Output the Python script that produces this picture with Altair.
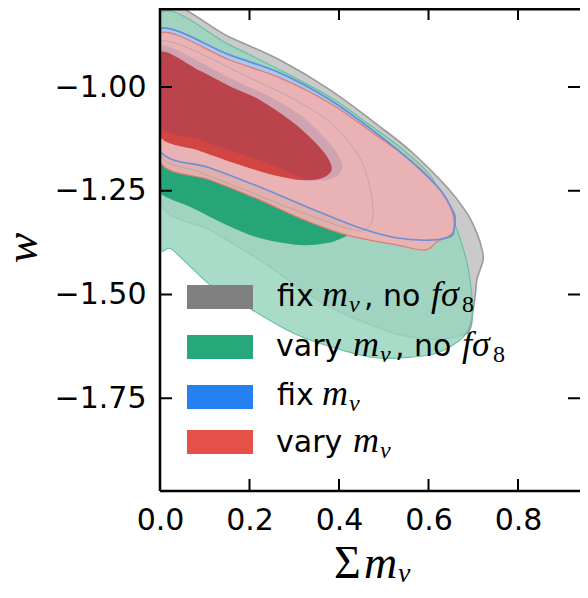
import altair as alt
import pandas as pd

# ---- contour data: Σm_ν (eV) and w for each confidence region ----
# fix m_nu, no f sigma_8 (grey) – 2 sigma
gray2_x = [0.0, 0.156, 0.268, 0.380, 0.492, 0.565, 0.641, 0.686, 0.708, 0.720, 0.722, 0.715, 0.708,
           0.704, 0.699, 0.695, 0.684, 0.648, 0.615, 0.539, 0.427, 0.351, 0.223, 0.112, 0.0, 0.0]
gray2_w = [-0.802, -0.880, -0.935, -1.007, -1.096, -1.159, -1.241, -1.304, -1.352, -1.393, -1.417, -1.441, -1.465,
           -1.506, -1.542, -1.576, -1.595, -1.605, -1.607, -1.598, -1.554, -1.513, -1.417, -1.345, -1.277, -1.040]
# grey 1 sigma (outline only visible)
gray1_x = [0.0, 0.201, 0.358, 0.436, 0.465, 0.476, 0.469, 0.436, 0.313, 0.201, 0.089, 0.0, 0.0]
gray1_w = [-0.889, -0.978, -1.067, -1.152, -1.224, -1.296, -1.333, -1.345, -1.301, -1.253, -1.205, -1.164, -1.025]
# vary m_nu, no f sigma_8 (green)
green2_x = [0.0, 0.156, 0.268, 0.380, 0.454, 0.536, 0.603, 0.637, 0.664, 0.686, 0.697, 0.697, 0.688,
            0.670, 0.619, 0.561, 0.487, 0.413, 0.302, 0.192, 0.118, 0.029, 0.0, 0.0]
green2_w = [-0.824, -0.899, -0.959, -1.024, -1.080, -1.145, -1.212, -1.284, -1.345, -1.424, -1.506, -1.554, -1.586,
            -1.610, -1.641, -1.651, -1.653, -1.636, -1.595, -1.528, -1.482, -1.393, -1.373, -1.100]
green1_x = [0.0, 0.112, 0.223, 0.335, 0.413, 0.429, 0.418, 0.402, 0.373, 0.313, 0.223, 0.150, 0.074, 0.0, 0.0]
green1_w = [-1.154, -1.195, -1.241, -1.292, -1.325, -1.340, -1.357, -1.366, -1.376, -1.381, -1.364, -1.333, -1.292,
            -1.255, -1.205]
# fix m_nu (blue)
blue2_x = [0.0, 0.156, 0.268, 0.380, 0.492, 0.565, 0.626, 0.653, 0.659, 0.657, 0.648, 0.603, 0.530, 0.447,
           0.335, 0.223, 0.112, 0.0, 0.0]
blue2_w = [-0.860, -0.923, -0.966, -1.031, -1.118, -1.183, -1.248, -1.296, -1.313, -1.345, -1.361, -1.369, -1.364,
           -1.340, -1.292, -1.241, -1.195, -1.154, -1.007]
blue1_x = [0.0, 0.156, 0.246, 0.313, 0.358, 0.391, 0.407, 0.398, 0.369, 0.324, 0.268, 0.179, 0.089, 0.0, 0.0]
blue1_w = [-0.899, -0.978, -1.024, -1.067, -1.111, -1.152, -1.188, -1.212, -1.224, -1.222, -1.195, -1.161, -1.128,
           -1.096, -0.998]
# vary m_nu (red)
red2_x = [0.0, 0.156, 0.268, 0.380, 0.476, 0.565, 0.626, 0.653, 0.657, 0.648, 0.619, 0.592, 0.530, 0.418,
          0.313, 0.223, 0.112, 0.0, 0.0]
red2_w = [-0.870, -0.935, -0.978, -1.039, -1.111, -1.181, -1.248, -1.301, -1.340, -1.357, -1.373, -1.393, -1.381,
          -1.357, -1.316, -1.272, -1.224, -1.181, -1.025]
red1_x = [0.0, 0.089, 0.156, 0.223, 0.291, 0.342, 0.371, 0.384, 0.375, 0.353, 0.313, 0.246, 0.179, 0.089, 0.0, 0.0]
red1_w = [-0.916, -0.961, -0.998, -1.031, -1.080, -1.128, -1.164, -1.195, -1.212, -1.222, -1.224, -1.210, -1.188,
          -1.154, -1.120, -1.018]

x_ticks = [0.0, 0.2, 0.4, 0.6, 0.8]
y_ticks = [-1.75, -1.5, -1.25, -1.0]
X_DOMAIN = [0.0, 0.9385]
Y_DOMAIN = [-1.9735, -0.8096]

legend_names = ["fix", "vary", "fix", "vary"]
legend_colors = ["#808080", "#26a87a", "#2681f0", "#e55048"]

W, H = 420, 483
xs = alt.Scale(domain=X_DOMAIN, nice=False, zero=False)
ys = alt.Scale(domain=Y_DOMAIN, nice=False, zero=False)

x_axis = alt.Axis(values=x_ticks, format=".1f", labelFont="DejaVu Sans", labelFontSize=30,
                  labelColor="black", ticks=False, tickSize=0, domain=False, grid=False,
                  labelPadding=14, title=None, labelFlush=False, labelOverlap=False)
y_axis = alt.Axis(values=y_ticks, format=".2f", labelFont="DejaVu Sans", labelFontSize=30,
                  labelColor="black", ticks=False, tickSize=0, domain=False, grid=False,
                  labelPadding=14, title=None, labelFlush=False, labelOverlap=False)


def poly(xv, wv, **style):
    df = pd.DataFrame({"x": xv, "w": wv})
    df["i"] = range(len(df))
    return alt.Chart(df).mark_line(clip=True, interpolate="cardinal-closed", **style).encode(
        x=alt.X("x:Q", scale=xs, axis=x_axis),
        y=alt.Y("w:Q", scale=ys, axis=y_axis),
        order="i:Q",
    )


one = alt.Data(values=[{}])


def text(s, x, y, size, font="DejaVu Sans", style="normal", angle=0, align="left", baseline="alphabetic"):
    return alt.Chart(one).mark_text(text=s, font=font, fontSize=size, fontStyle=style, align=align,
                                    baseline=baseline, angle=angle, color="black").encode(
        x=alt.value(x), y=alt.value(y))


def vrule(x, y1, y2, w=2.5):
    return alt.Chart(one).mark_rule(color="black", strokeWidth=w).encode(
        x=alt.value(x), y=alt.value(y1), y2=alt.value(y2))


def hrule(y, x1, x2, w=2.5):
    return alt.Chart(one).mark_rule(color="black", strokeWidth=w).encode(
        y=alt.value(y), x=alt.value(x1), x2=alt.value(x2))


NOSTROKE = dict(stroke="#000000", strokeOpacity=0, strokeWidth=0)
layers = [
    poly(gray2_x, gray2_w, fill="#808080", fillOpacity=0.42, stroke="#9a9a9a", strokeWidth=1.6),
    poly(green2_x, green2_w, fill="#99d6c0", fillOpacity=0.85, stroke="#66c39e", strokeWidth=1.2),
    poly(green1_x, green1_w, fill="#1fa274", fillOpacity=0.95, **NOSTROKE),
    poly(blue2_x, blue2_w, fill="#a9c8f2", fillOpacity=0.9, stroke="#5a9ae8", strokeWidth=1.5),
    poly(red2_x, red2_w, fill="#eeb0b0", fillOpacity=0.93, stroke="#e07a72", strokeWidth=1.2),
    poly(gray1_x, gray1_w, fill="#ffffff", fillOpacity=0, stroke="#a89090", strokeWidth=0.8, strokeOpacity=0.6),
    poly(blue2_x, blue2_w, fill="#ffffff", fillOpacity=0, stroke="#6d8fd8", strokeWidth=1.6),
    poly(red1_x, red1_w, fill="#d0403c", fillOpacity=0.95, **NOSTROKE),
    poly(blue1_x, blue1_w, fill="#203c90", fillOpacity=0.12, **NOSTROKE),
]

# inward ticks on all sides
xt = pd.DataFrame({"v": x_ticks})
yt = pd.DataFrame({"v": y_ticks})
tl = 12
layers += [
    alt.Chart(xt).mark_rule(color="black", strokeWidth=2).encode(
        x=alt.X("v:Q", scale=xs, axis=x_axis), y=alt.value(H), y2=alt.value(H - tl)),
    alt.Chart(xt).mark_rule(color="black", strokeWidth=2).encode(
        x=alt.X("v:Q", scale=xs, axis=x_axis), y=alt.value(0), y2=alt.value(tl)),
    alt.Chart(yt).mark_rule(color="black", strokeWidth=2).encode(
        y=alt.Y("v:Q", scale=ys, axis=y_axis), x=alt.value(0), x2=alt.value(tl)),
    alt.Chart(yt).mark_rule(color="black", strokeWidth=2).encode(
        y=alt.Y("v:Q", scale=ys, axis=y_axis), x=alt.value(W - tl), x2=alt.value(W)),
]
# spines
layers += [vrule(0, 0, H), hrule(1.2, 0, W), hrule(H, 0, W)]

# legend
sw_y = [277, 327, 377, 422]
base_y = [298, 348, 397, 444]
for k in range(4):
    layers.append(alt.Chart(one).mark_rect(color=legend_colors[k]).encode(
        x=alt.value(27), x2=alt.value(93), y=alt.value(sw_y[k]), y2=alt.value(sw_y[k] + 24)))
    name = legend_names[k]
    mx = 162 if name == "fix" else 193
    layers.append(text(name, 117 if name == "fix" else 116, base_y[k], 30))
    layers.append(text("m", mx, base_y[k], 36, font="Liberation Serif", style="italic"))
    layers.append(text("ν", mx + 27, base_y[k] + 6, 24, font="Liberation Serif", style="italic"))
    if k < 2:
        layers.append(text(", no", mx + 42, base_y[k], 30))
        fx = 271 if name == "fix" else 302
        layers.append(text("fσ", fx, base_y[k], 36, font="Liberation Serif", style="italic"))
        layers.append(text("8", fx + 31, base_y[k] + 6, 24, font="Liberation Serif"))

# axis titles
layers.append(text("w", -137, 240, 46, font="Liberation Serif", style="italic", angle=270,
                   align="center", baseline="middle"))
layers.append(text("Σ", 174, 580, 46, font="Liberation Serif", baseline="bottom"))
layers.append(text("m", 204, 580, 46, font="Liberation Serif", style="italic", baseline="bottom"))
layers.append(text("ν", 238, 580, 28, font="Liberation Serif", style="italic", baseline="bottom"))

chart = alt.layer(*layers).properties(
    width=W, height=H, autosize="none",
    padding={"left": 152, "top": 0, "right": 0, "bottom": 98},
).configure_view(strokeWidth=0)

chart.save("out.html", embed_options={"renderer": "svg", "actions": False})
